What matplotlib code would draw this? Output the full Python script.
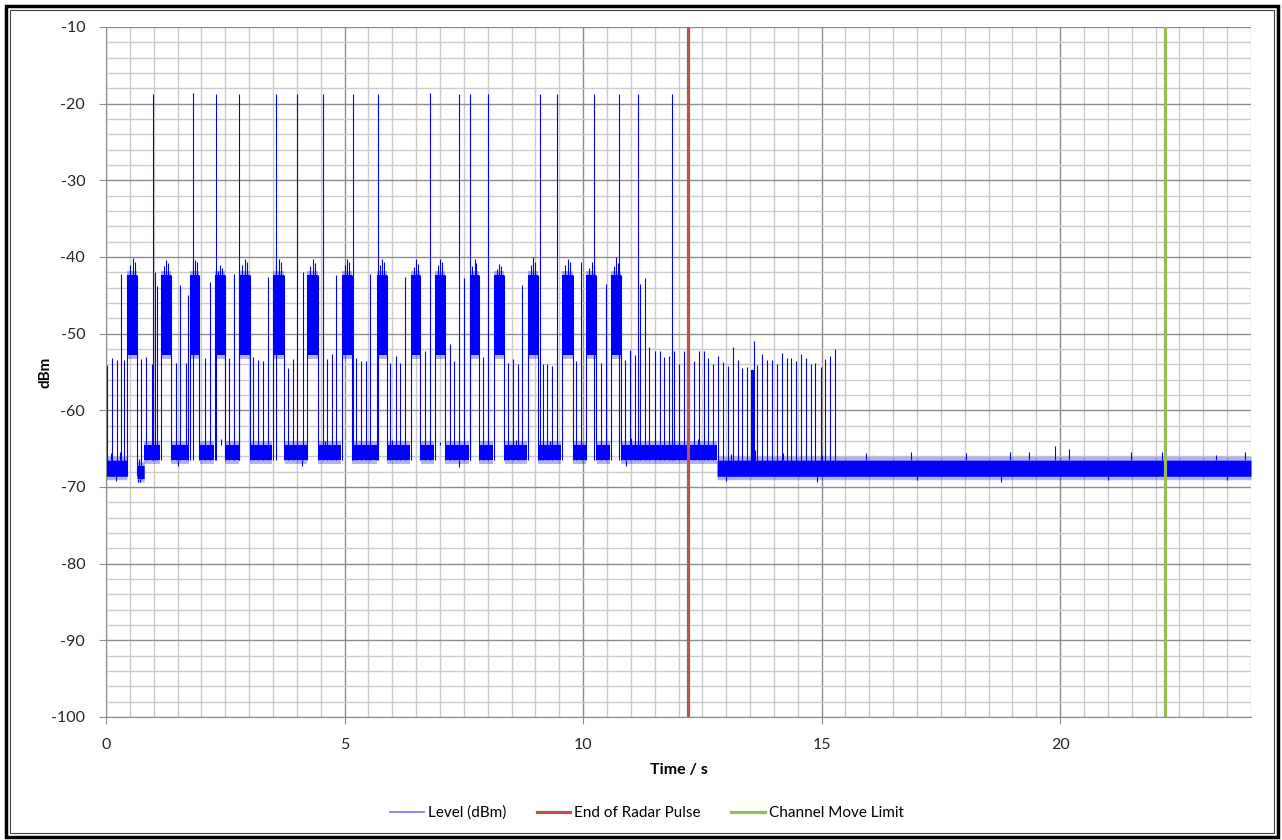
import matplotlib.pyplot as plt
import matplotlib.patches as patches
from matplotlib.lines import Line2D
import numpy as np

plt.rcParams['font.family'] = ['Lato', 'DejaVu Sans']
plt.rcParams['axes.unicode_minus'] = False

# Dense radar bursts (time in s, level in dBm)
burst_start = [0.44, 1.15, 1.76, 2.28, 2.79, 3.50, 4.21, 4.94, 5.68, 6.39, 6.89, 7.62, 8.13, 8.84, 9.55, 10.07, 10.58]
burst_end = [0.65, 1.36, 1.95, 2.49, 3.02, 3.73, 4.44, 5.15, 5.88, 6.58, 7.10, 7.81, 8.34, 9.05, 9.78, 10.28, 10.79]
burst_peak = [-40.1, -40.4, -40.4, -41.1, -40.2, -40.2, -40.3, -40.3, -40.2, -40.2, -40.2, -40.2, -40.9, -40.0, -40.2, -40.7, -40.0]
burst_peak2 = [-41.0, -41.2, -41.0, -41.8, -41.1, -41.0, -41.2, -41.1, -41.0, -41.3, -41.0, -41.2, -41.6, -41.0, -41.1, -41.4, -41.2]
burst_low = -52.8
burst_high = -42.4

# Tall pulses
tall_t = [0.98, 1.82, 2.30, 2.79, 3.56, 4.00, 4.54, 5.17, 5.70, 6.79, 7.39, 7.62, 8.00, 9.09, 9.45, 10.22, 10.76, 11.16, 11.87]
tall_top = [-18.7, -18.6, -18.7, -18.7, -18.8, -18.7, -18.7, -18.8, -18.7, -18.6, -18.7, -18.7, -18.7, -18.8, -18.7, -18.7, -18.8, -18.7, -18.8]

# Medium pulses rising from the noise floor
mid_t = [0.02, 0.13, 0.24, 0.32, 0.38, 0.74, 0.84, 0.96, 1.02, 1.06, 1.47, 1.56, 1.67, 1.72, 2.07, 2.17,
         2.58, 2.68, 3.08, 3.19, 3.29, 3.40, 3.81, 3.91, 4.12, 4.63, 4.73, 4.83, 5.25, 5.35, 5.46, 5.54,
         5.95, 6.07, 6.16, 6.26, 6.68, 7.20, 7.29, 7.50, 7.90, 8.42, 8.53, 8.63, 8.73, 9.15, 9.24, 9.35,
         9.86, 9.95, 10.37, 10.48, 10.88, 10.98, 11.08, 11.20, 11.29, 11.39, 11.50, 11.61, 11.70, 11.80,
         11.90, 12.01, 12.11, 12.32, 12.43, 12.53, 12.61, 12.72, 12.82, 12.93, 13.03, 13.14, 13.24, 13.34,
         13.43, 13.58, 13.64, 13.74, 13.85, 13.95, 14.06, 14.16, 14.27, 14.35, 14.46, 14.56, 14.67, 14.77,
         14.87, 14.98, 15.08, 15.17, 15.27]
mid_top = [-54.1, -53.2, -53.4, -42.2, -53.4, -53.3, -53.0, -53.9, -42.0, -43.8, -53.8, -43.6, -53.8, -44.9, -53.2, -43.2,
           -53.2, -42.2, -53.0, -53.4, -53.6, -42.6, -54.5, -53.3, -42.0, -53.3, -52.6, -42.4, -53.2, -53.6, -53.6, -42.2,
           -53.8, -52.9, -53.8, -42.6, -52.2, -51.3, -53.6, -42.8, -53.0, -53.8, -53.3, -53.9, -43.6, -53.9, -54.0, -54.2,
           -53.6, -40.7, -53.8, -43.5, -53.4, -52.1, -52.8, -43.5, -42.7, -51.8, -52.3, -52.2, -53.0, -52.9,
           -52.2, -53.9, -52.2, -53.6, -52.2, -52.3, -53.2, -53.9, -52.9, -53.7, -54.2, -51.8, -53.4, -54.5,
           -54.3, -50.9, -54.1, -52.6, -53.4, -53.4, -53.9, -52.5, -53.2, -53.2, -53.6, -52.6, -53.2, -54.0,
           -53.8, -54.3, -53.3, -52.9, -52.0]

# Short dense cluster around 13.5 s
cluster_t0 = [13.52]
cluster_t1 = [13.59]
cluster_top = [-54.7]

# Noise floor segments
floor_t0 = [0.00, 0.65, 0.80, 12.81]
floor_t1 = [0.44, 0.80, 12.81, 24.00]
floor_lo = [-68.6, -68.9, -66.5, -68.6]
floor_hi = [-66.5, -67.2, -64.5, -66.5]

# Noise floor excursions
fuzz_t = [0.10, 0.30, 0.70, 2.40, 4.60, 6.00, 7.00, 8.60, 9.30, 11.00, 11.90, 12.40, 13.10, 13.60, 14.20, 15.00,
          15.94, 16.87, 18.02, 18.95, 19.35, 19.90, 20.19, 21.48, 22.14, 23.26, 23.87]
fuzz_top = [-65.6, -65.4, -66.4, -63.8, -64.0, -63.9, -64.1, -63.9, -64.0, -63.6, -63.7, -63.8, -65.7, -65.2, -65.6, -65.8,
            -65.6, -65.5, -65.6, -65.4, -65.5, -64.6, -65.0, -65.5, -65.4, -65.8, -65.5]
dip_t = [0.20, 0.68, 0.72, 1.50, 4.10, 7.40, 10.90, 13.00, 14.90, 17.00, 18.76, 21.00, 23.50]
dip_low = [-69.2, -69.4, -69.3, -67.2, -67.3, -67.4, -67.3, -69.2, -69.3, -69.1, -69.4, -69.1, -69.1]

# Markers
radar_end = 12.19
move_limit = 22.20

trace = '#0000ff'


def floor_range(t):
    for a, b, lo, hi in zip(floor_t0, floor_t1, floor_lo, floor_hi):
        if a <= t <= b:
            return lo, hi
    return floor_lo[-1], floor_hi[-1]


def in_burst(t):
    for a, b in zip(burst_start, burst_end):
        if a <= t <= b:
            return True
    return False


fig = plt.figure(figsize=(12.82, 8.40), dpi=100)
ax = fig.add_axes([106 / 1282, 1 - 717 / 840, 1145 / 1282, 690 / 840])

# noise floor band, solid core plus a soft ragged edge
for a, b, lo, hi in zip(floor_t0, floor_t1, floor_lo, floor_hi):
    tt = np.linspace(a, b, 600)
    mask = np.array([not in_burst(t) for t in tt])
    ax.fill_between(tt, lo - 0.45, hi + 0.5, where=mask, color=trace, alpha=0.3, lw=0, zorder=2)
    ax.fill_between(tt, lo, hi, where=mask, color=trace, lw=0, zorder=2)

for t, top in zip(fuzz_t, fuzz_top):
    lo, hi = floor_range(t)
    ax.vlines(t, hi, top, color=trace, lw=0.8, zorder=2)
for t, low in zip(dip_t, dip_low):
    lo, hi = floor_range(t)
    ax.vlines(t, low, lo, color=trace, lw=0.8, zorder=2)

# bursts
for a, b, pk, pk2 in zip(burst_start, burst_end, burst_peak, burst_peak2):
    ax.fill_between([a, b], burst_low - 0.5, burst_high + 0.6, color=trace, alpha=0.3, lw=0, zorder=2)
    ax.fill_between([a, b], burst_low, burst_high, color=trace, lw=0, zorder=2)
    lo, hi = floor_range(a)
    ax.vlines([a, b], lo, burst_high, color=trace, lw=0.8, zorder=2)
    ax.vlines([a + 0.3 * (b - a), a + 0.55 * (b - a), a + 0.75 * (b - a)], burst_high,
              [pk2, pk, pk2 + 0.4], color=trace, lw=0.8, zorder=2)

for a, b, top in zip(cluster_t0, cluster_t1, cluster_top):
    lo, hi = floor_range(a)
    ax.fill_between([a, b], lo, top, color=trace, lw=0, zorder=2)

for t, top in zip(mid_t, mid_top):
    lo, hi = floor_range(t)
    ax.vlines(t, lo, top, color=trace, lw=0.8, zorder=2)

for t, top in zip(tall_t, tall_top):
    lo, hi = floor_range(t)
    ax.vlines(t, lo, top, color=trace, lw=0.8, zorder=2)

ax.axvline(radar_end, color='#c0504d', lw=2.3, zorder=3)
ax.axvline(move_limit, color='#9bbb59', lw=2.3, zorder=3)

ax.set_xlim(0, 24)
ax.set_ylim(-100, -10)
ax.set_xticks(np.arange(0, 21, 5))
ax.set_xticks(np.arange(0, 24.01, 0.5), minor=True)
ax.set_yticks(np.arange(-100, -9, 10))
ax.set_yticks(np.arange(-100, -9, 2), minor=True)
ax.grid(which='minor', color='#cccccc', lw=1.0)
ax.grid(which='major', color='#8c8c8c', lw=1.0)
ax.set_axisbelow(True)
ax.tick_params(which='major', length=5, color='#8c8c8c', labelsize=11.5, labelcolor='#262626', pad=10)
ax.tick_params(which='minor', length=0)
for s in ['top', 'right']:
    ax.spines[s].set_visible(False)
for s in ['left', 'bottom']:
    ax.spines[s].set_color('#8c8c8c')

ax.set_xlabel('Time / s', fontsize=11.5, fontweight='bold', labelpad=8)
ax.set_ylabel('dBm', fontsize=11, fontweight='bold')
ax.yaxis.set_label_coords((53 - 106) / 1145, 0.5)

handles = [Line2D([], [], color='#7f7fff', lw=1.3),
           Line2D([], [], color='#c0504d', lw=2.3),
           Line2D([], [], color='#9bbb59', lw=2.3)]
fig.legend(handles, ['Level (dBm)', 'End of Radar Pulse', 'Channel Move Limit'],
           loc='center', bbox_to_anchor=(647 / 1282, 1 - 813 / 840), ncol=3, frameon=False,
           fontsize=11, handlelength=2.2, handletextpad=0.26, columnspacing=2.0)

fig.patches.append(patches.Rectangle((6 / 1282, 3 / 840), 1272 / 1282, 831 / 840, transform=fig.transFigure,
                                     fill=False, edgecolor='black', lw=2.5))
fig.patches.append(patches.Rectangle((10 / 1282, 7 / 840), 1264 / 1282, 823 / 840, transform=fig.transFigure,
                                     fill=False, edgecolor='#404040', lw=0.8))

fig.savefig('out.png', dpi=100)
